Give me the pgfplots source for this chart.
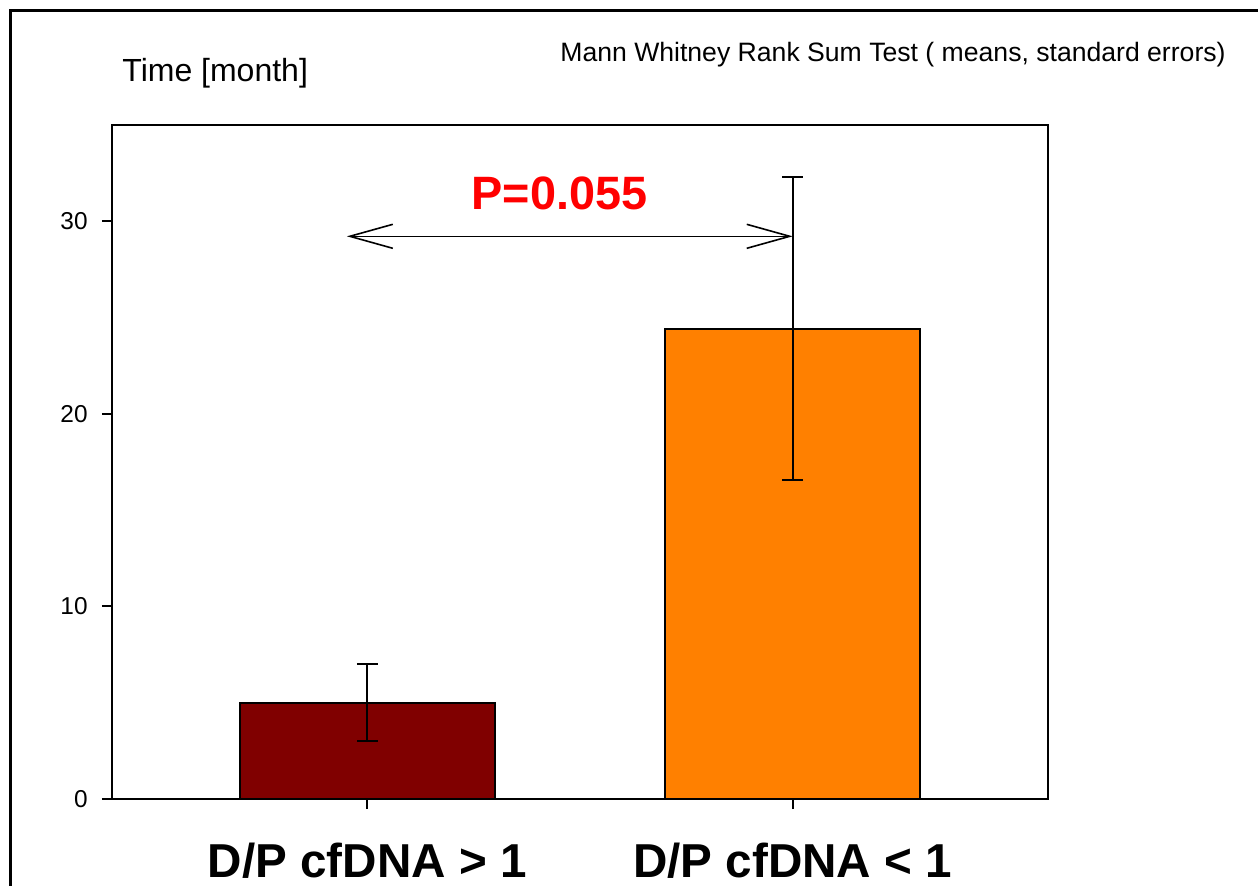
\documentclass[border=0pt]{standalone}
\usepackage{pgfplots}
\pgfplotsset{compat=1.18}
\usepackage{fontspec}
\setmainfont{Liberation Sans}
\usetikzlibrary{arrows.meta}
\definecolor{darkbar}{HTML}{800000}
\definecolor{orangebar}{HTML}{FF8000}
\definecolor{pred}{HTML}{FF0000}

\begin{document}
\begin{tikzpicture}
\useasboundingbox (-56pt,-43pt) rectangle (573pt,399.5pt);
% outer frame
\draw[line width=1.5pt] (-50.5pt,-60pt) -- (-50.5pt,394pt) -- (600pt,394pt);

\begin{axis}[
    at={(0,0)}, anchor=south west,
    scale only axis,
    width=468pt, height=337pt,
    xmin=-0.6, xmax=1.6,
    ymin=0, ymax=35,
    xtick={0,1},
    xticklabels={D/P cfDNA > 1, D/P cfDNA < 1},
    ytick={0,10,20,30},
    xtick pos=lower, ytick pos=left,
    tick align=outside,
    major tick length=5pt,
    axis line style={line width=1pt},
    every tick/.style={black, line width=1pt},
    /pgf/number format/assume math mode=true,
    yticklabel style={font=\fontsize{12.2}{14}\selectfont, anchor=east, inner sep=0pt, xshift=-7pt},
    xticklabel style={font=\fontsize{23.8}{27}\selectfont\bfseries, anchor=base, inner sep=0pt, yshift=-34pt},
    bar width=0.6,
    clip=false,
]
\addplot[ybar, bar shift=0pt, fill=darkbar, draw=black, line width=1pt,
    error bars/.cd, y dir=both, y explicit,
    error bar style={line width=1pt},
    error mark options={rotate=90, mark size=5.25pt, line width=1pt}]
  coordinates {(0,5.0) +- (0,2.0)};
\addplot[ybar, bar shift=0pt, fill=orangebar, draw=black, line width=1pt,
    error bars/.cd, y dir=both, y explicit,
    error bar style={line width=1pt},
    error mark options={rotate=90, mark size=5.25pt, line width=1pt}]
  coordinates {(1,24.43) +- (0,7.85)};

\draw[line width=0.8pt, {Straight Barb[length=21.5pt,width=12pt]}-{Straight Barb[length=21.5pt,width=12pt]}]
  (axis cs:-0.048,29.22) -- (axis cs:1.0,29.22);
\node[anchor=base, text=pred, font=\fontsize{23.4}{27}\selectfont\bfseries]
  at (axis cs:0.452,30.61) {P=0.055};
\end{axis}

\node[anchor=base west, font=\fontsize{16}{19}\selectfont, inner sep=0pt] at (5pt,358.5pt) {Time [month]};
\node[anchor=base east, font=\fontsize{13.3}{16}\selectfont, inner sep=0pt] at (557pt,368.5pt) {Mann Whitney Rank Sum Test ( means, standard errors)};
\end{tikzpicture}
\end{document}
